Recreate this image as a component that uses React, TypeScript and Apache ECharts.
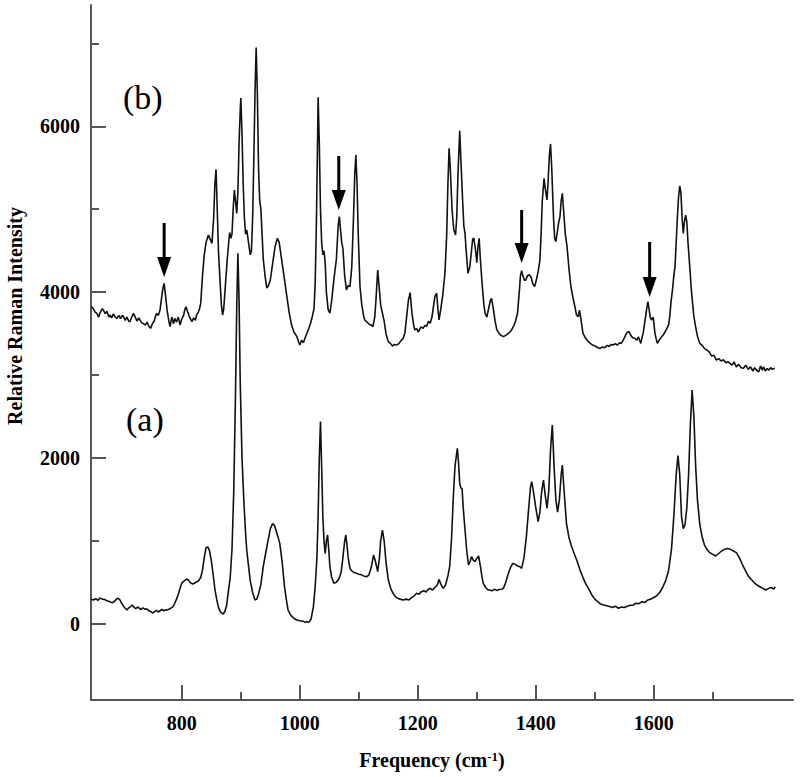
import React, { useEffect, useRef } from "react";
import * as echarts from "echarts";

// Spectrum (a): [frequency cm-1, intensity]
const specA: number[][] = [
  [646,301],[650,290],[654,305],[658,285],[661,313],[665,300],[669,295],[673,280],[677,270],[680,262],
  [683,257],[686,275],[689,300],[692,310],[695,290],[698,250],[701,215],[704,190],[707,169],[710,195],
  [713,210],[716,229],[719,200],[722,185],[725,205],[728,190],[731,175],[734,195],[737,180],[741,181],
  [744,160],[747,150],[751,133],[754,150],[757,165],[760,145],[763,160],[766,175],[769,160],[772,170],
  [775,169],[779,180],[782,195],[785,209],[788,250],[791,300],[794,360],[797,430],[800,494],[804,520],
  [808,542],[811,530],[815,495],[819,482],[823,500],[828,518],[832,560],[835,650],[838,800],[841,920],
  [844,930],[847,880],[850,760],[853,600],[856,420],[859,300],[862,200],[866,140],[870,121],[873,150],
  [876,230],[879,400],[882,560],[885,900],[888,1600],[891,2800],[893,3800],[895,4470],[897,3900],[899,2900],
  [902,2000],[905,1500],[908,1100],[910,892],[913,700],[916,520],[920,380],[924,289],[927,300],[930,360],
  [934,480],[938,691],[942,850],[946,1000],[950,1150],[954,1210],[957,1190],[960,1120],[963,1050],[966,972],
  [970,750],[974,450],[977,300],[980,169],[985,100],[990,70],[995,48],[1000,40],[1005,35],[1009,20],
  [1012,28],[1016,25],[1019,60],[1023,209],[1026,450],[1029,800],[1031,1300],[1033,2000],[1035,2440],[1037,1900],
  [1039,1300],[1041,1000],[1043,852],[1045,1000],[1047,1073],[1049,900],[1051,691],[1054,560],[1058,490],[1062,505],
  [1066,540],[1070,620],[1073,800],[1076,1000],[1078,1073],[1080,950],[1082,800],[1085,671],[1088,640],[1092,620],
  [1096,611],[1100,600],[1104,595],[1108,580],[1113,570],[1117,590],[1121,680],[1125,832],[1128,760],[1132,631],
  [1135,800],[1137,1000],[1140,1133],[1143,1000],[1146,750],[1150,530],[1154,430],[1158,370],[1162,330],[1166,310],
  [1170,300],[1175,289],[1180,300],[1185,290],[1190,320],[1194,340],[1198,370],[1202,360],[1206,390],[1210,400],
  [1214,385],[1218,420],[1221,430],[1225,410],[1229,440],[1233,470],[1236,538],[1239,480],[1243,430],[1247,470],
  [1251,580],[1254,691],[1257,1000],[1260,1500],[1263,1900],[1267,2117],[1269,1950],[1271,1695],[1273,1640],[1275,1635],
  [1277,1400],[1280,1133],[1283,880],[1286,711],[1289,760],[1291,811],[1294,770],[1297,751],[1300,790],[1303,820],
  [1306,700],[1309,560],[1311,490],[1315,440],[1319,410],[1322,410],[1326,400],[1330,420],[1334,405],[1338,415],
  [1342,420],[1345,430],[1349,500],[1353,600],[1357,680],[1361,731],[1365,720],[1369,700],[1373,690],[1376,671],
  [1380,800],[1384,1053],[1388,1400],[1391,1650],[1393,1716],[1396,1600],[1400,1400],[1404,1233],[1407,1350],[1410,1600],
  [1413,1736],[1416,1550],[1419,1394],[1422,1600],[1425,2100],[1428,2400],[1431,1900],[1434,1500],[1437,1350],[1440,1500],
  [1443,1800],[1445,1916],[1448,1600],[1452,1213],[1456,1050],[1460,950],[1465,850],[1470,760],[1475,650],[1480,560],
  [1485,480],[1490,420],[1495,350],[1500,300],[1505,270],[1510,240],[1515,230],[1520,220],[1525,210],[1530,200],
  [1535,215],[1540,190],[1545,205],[1550,200],[1555,215],[1560,225],[1565,230],[1570,250],[1575,245],[1580,270],
  [1585,260],[1590,290],[1595,300],[1600,320],[1605,340],[1610,380],[1615,440],[1620,520],[1625,640],[1630,900],
  [1634,1300],[1638,1800],[1641,2030],[1644,1800],[1647,1300],[1650,1150],[1653,1200],[1656,1400],[1659,1800],[1662,2400],
  [1665,2820],[1668,2500],[1671,1900],[1674,1500],[1678,1200],[1682,1050],[1686,950],[1690,900],[1695,860],[1700,840],
  [1705,820],[1710,850],[1715,880],[1720,900],[1725,910],[1730,900],[1735,880],[1740,860],[1745,800],[1750,720],
  [1755,650],[1760,580],[1765,540],[1770,500],[1775,470],[1780,450],[1785,430],[1790,410],[1795,430],[1800,440],
  [1803,420],[1806,450]
];

// Spectrum (b): [frequency cm-1, intensity]
const specB: number[][] = [
  [647,3825],[650,3800],[653,3760],[656,3745],[659,3700],[662,3760],[665,3800],[667,3785],[670,3740],[673,3770],
  [676,3700],[678,3725],[681,3690],[684,3740],[687,3700],[690,3685],[693,3720],[696,3680],[699,3720],[701,3705],
  [704,3660],[707,3700],[710,3650],[712,3644],[715,3700],[718,3745],[721,3700],[724,3650],[727,3690],[729,3665],
  [732,3630],[735,3620],[738,3604],[741,3640],[744,3590],[747,3564],[750,3620],[753,3650],[755,3700],[757,3745],
  [760,3720],[763,3785],[766,3950],[768,4050],[770,4106],[772,3980],[775,3785],[778,3650],[780,3584],[783,3700],
  [786,3620],[788,3685],[791,3640],[794,3700],[797,3604],[800,3680],[803,3720],[805,3790],[807,3825],[810,3760],
  [813,3700],[817,3644],[820,3690],[823,3660],[825,3725],[828,3760],[830,3800],[832,3865],[835,4200],[838,4450],
  [841,4600],[845,4689],[848,4640],[851,4589],[854,4900],[856,5300],[858,5480],[860,5000],[862,4508],[865,4100],
  [867,3850],[869,3725],[871,3800],[874,4100],[877,4400],[879,4560],[881,4720],[883,4650],[885,4700],[887,5000],
  [889,5230],[891,5100],[893,4950],[895,5200],[897,5800],[899,6200],[900,6340],[902,5900],[904,5300],[906,4900],
  [908,4700],[910,4750],[913,4600],[916,4450],[918,4500],[920,4900],[922,5600],[924,6400],[926,6950],[928,6400],
  [930,5500],[932,5100],[934,5000],[936,4700],[938,4400],[941,4200],[944,4050],[947,4080],[950,4150],[954,4350],
  [958,4550],[962,4650],[965,4600],[968,4450],[972,4250],[975,4100],[978,3950],[982,3750],[986,3604],[990,3520],
  [995,3464],[998,3400],[1000,3363],[1003,3420],[1006,3390],[1009,3450],[1012,3504],[1015,3560],[1018,3620],[1021,3700],
  [1024,3800],[1026,4100],[1028,4800],[1030,5800],[1031,6350],[1033,5800],[1035,5000],[1037,4600],[1039,4450],[1041,4500],
  [1043,4350],[1045,4000],[1048,3790],[1051,3746],[1054,3900],[1057,4100],[1059,4228],[1062,4400],[1065,4800],[1067,4911],
  [1069,4750],[1071,4600],[1073,4529],[1076,4200],[1079,4027],[1082,4080],[1085,4067],[1088,4300],[1091,4900],[1093,5400],
  [1095,5654],[1097,5300],[1099,4700],[1102,4067],[1105,3850],[1108,3720],[1110,3665],[1114,3640],[1118,3610],[1122,3600],
  [1124,3585],[1127,3700],[1129,3900],[1132,4268],[1134,4100],[1137,3850],[1140,3746],[1143,3650],[1146,3500],[1150,3404],
  [1154,3380],[1157,3350],[1160,3370],[1164,3364],[1168,3380],[1172,3420],[1175,3440],[1178,3504],[1181,3700],[1184,3900],
  [1187,3995],[1190,3750],[1193,3600],[1195,3545],[1198,3560],[1201,3520],[1205,3580],[1209,3565],[1212,3600],[1215,3590],
  [1218,3650],[1221,3625],[1224,3700],[1227,3850],[1229,3950],[1232,3987],[1234,3800],[1236,3665],[1239,3800],[1242,3950],
  [1246,4228],[1249,4700],[1251,5300],[1253,5734],[1255,5500],[1258,5000],[1261,4750],[1264,4690],[1266,4900],[1268,5400],
  [1271,5947],[1273,5600],[1276,5100],[1278,4800],[1280,4710],[1282,4500],[1285,4228],[1288,4300],[1291,4500],[1293,4640],
  [1295,4650],[1298,4500],[1300,4356],[1302,4550],[1304,4650],[1306,4400],[1309,4100],[1312,3850],[1314,3746],[1317,3700],
  [1320,3800],[1323,3900],[1325,3926],[1328,3800],[1331,3650],[1334,3545],[1338,3500],[1341,3480],[1345,3464],[1349,3480],
  [1353,3500],[1356,3520],[1359,3545],[1363,3600],[1366,3660],[1369,3746],[1372,4000],[1374,4200],[1376,4260],[1378,4200],
  [1381,4140],[1383,4147],[1386,4200],[1389,4210],[1392,4180],[1395,4100],[1398,4067],[1401,4150],[1404,4250],[1407,4388],
  [1409,4700],[1411,5100],[1414,5373],[1416,5250],[1419,5112],[1421,5350],[1423,5650],[1425,5787],[1427,5500],[1430,4900],
  [1432,4650],[1434,4609],[1437,4750],[1439,4850],[1441,4911],[1443,5100],[1445,5192],[1447,5000],[1450,4700],[1453,4549],
  [1456,4300],[1459,4100],[1461,4007],[1464,3900],[1467,3800],[1469,3725],[1472,3705],[1474,3785],[1477,3650],[1480,3504],
  [1484,3450],[1489,3403],[1493,3380],[1497,3360],[1501,3350],[1505,3330],[1509,3323],[1513,3340],[1517,3330],[1521,3360],
  [1524,3345],[1528,3370],[1531,3363],[1535,3380],[1538,3360],[1542,3390],[1545,3383],[1548,3420],[1552,3480],[1555,3520],
  [1558,3524],[1561,3480],[1564,3450],[1568,3444],[1571,3420],[1574,3460],[1578,3383],[1580,3450],[1582,3504],[1585,3650],
  [1588,3800],[1590,3886],[1592,3800],[1594,3700],[1596,3665],[1599,3700],[1602,3504],[1604,3440],[1606,3383],[1609,3420],
  [1612,3450],[1616,3484],[1619,3520],[1622,3560],[1625,3604],[1627,3700],[1629,3866],[1632,4050],[1634,4200],[1636,4307],
  [1638,4600],[1640,4900],[1642,5150],[1644,5280],[1646,5200],[1648,4900],[1650,4709],[1652,4850],[1654,4930],[1656,4850],
  [1658,4600],[1661,4307],[1664,4000],[1666,3850],[1668,3705],[1671,3580],[1674,3470],[1678,3383],[1682,3360],[1686,3320],
  [1690,3303],[1694,3280],[1698,3230],[1702,3240],[1706,3182],[1710,3200],[1714,3170],[1718,3185],[1722,3150],[1726,3160],
  [1729,3142],[1733,3120],[1736,3160],[1740,3100],[1744,3130],[1748,3090],[1752,3082],[1756,3120],[1760,3070],[1764,3100],
  [1768,3050],[1771,3090],[1774,3062],[1778,3040],[1781,3110],[1784,3060],[1786,3102],[1789,3050],[1792,3080],[1795,3060],
  [1798,3090],[1801,3070],[1805,3082]
];

// Arrows: [frequency, shaft top intensity, tip intensity]
const arrows: number[][] = [
  [770, 4834, 4183],
  [1066, 5642, 4991],
  [1376, 4991, 4352],
  [1593, 4605, 3942],
];

const xMajorTicks = [800, 1000, 1200, 1400, 1600];
const xMinorTicks = [900, 1100, 1300, 1500, 1700];
const yMajorTicks = [0, 2000, 4000, 6000];
const yMinorTicks = [1000, 3000, 5000, 7000];

const X_MIN = 646;
const X_MAX = 1836;
const Y_MIN = -916;
const Y_MAX = 7462;

const SERIF = "'Liberation Serif', 'Times New Roman', serif";
const AXIS_COLOR = "#555";

export default function App() {
  const ref = useRef<HTMLDivElement>(null);
  useEffect(() => {
    if (!ref.current) return;
    const chart = echarts.init(ref.current, null, { renderer: "svg" });
    const labelStyle = { fontFamily: SERIF, fontWeight: "bold" as const, fontSize: 20, color: "#000" };
    const fmt = (v: number) => String(v);
    const option: any = {
      animation: false,
      backgroundColor: "#fff",
      grid: { left: 91, right: 7, top: 5, bottom: 77, containLabel: false },
      xAxis: [
        {
          type: "value", min: X_MIN, max: X_MAX, position: "bottom",
          axisLine: { show: true, onZero: false, lineStyle: { color: AXIS_COLOR, width: 2 } },
          axisTick: { show: true, inside: true, length: 15, customValues: xMajorTicks, lineStyle: { color: AXIS_COLOR, width: 2 } },
          axisLabel: { show: true, customValues: xMajorTicks, margin: 13, formatter: fmt, ...labelStyle },
          splitLine: { show: false },
        },
        {
          type: "value", min: X_MIN, max: X_MAX, position: "bottom",
          axisLine: { show: false, onZero: false },
          axisTick: { show: true, inside: true, length: 8, customValues: xMinorTicks, lineStyle: { color: AXIS_COLOR, width: 2 } },
          axisLabel: { show: false },
          splitLine: { show: false },
        },
      ],
      yAxis: [
        {
          type: "value", min: Y_MIN, max: Y_MAX, position: "left",
          axisLine: { show: true, onZero: false, lineStyle: { color: AXIS_COLOR, width: 2 } },
          axisTick: { show: true, inside: true, length: 15, customValues: yMajorTicks, lineStyle: { color: AXIS_COLOR, width: 2 } },
          axisLabel: { show: true, customValues: yMajorTicks, margin: 11, formatter: fmt, ...labelStyle },
          splitLine: { show: false },
        },
        {
          type: "value", min: Y_MIN, max: Y_MAX, position: "left",
          axisLine: { show: false, onZero: false },
          axisTick: { show: true, inside: true, length: 8, customValues: yMinorTicks, lineStyle: { color: AXIS_COLOR, width: 2 } },
          axisLabel: { show: false },
          splitLine: { show: false },
        },
      ],
      series: [
        {
          name: "(a)", type: "line", data: specA, showSymbol: false, symbol: "none",
          xAxisIndex: 0, yAxisIndex: 0,
          lineStyle: { color: "#111", width: 1.6 },
        },
        {
          name: "(b)", type: "line", data: specB, showSymbol: false, symbol: "none",
          xAxisIndex: 0, yAxisIndex: 0,
          lineStyle: { color: "#111", width: 1.6 },
        },
        {
          type: "custom", xAxisIndex: 0, yAxisIndex: 0, data: arrows,
          encode: { x: 0, y: [1, 2] },
          renderItem: (params: any, api: any) => {
            const top = api.coord([api.value(0), api.value(1)]);
            const tip = api.coord([api.value(0), api.value(2)]);
            return {
              type: "group",
              children: [
                { type: "line", shape: { x1: top[0], y1: top[1], x2: tip[0], y2: tip[1] - 16 }, style: { stroke: "#000", lineWidth: 3 } },
                { type: "polygon", shape: { points: [[tip[0] - 7, tip[1] - 20], [tip[0] + 7, tip[1] - 20], [tip[0], tip[1]]] }, style: { fill: "#000" } },
              ],
            };
          },
        },
      ],
      graphic: [
        { type: "text", left: 123, top: 80, style: { text: "(b)", font: `34px ${SERIF}`, fill: "#000" } },
        { type: "text", left: 126, top: 402, style: { text: "(a)", font: `34px ${SERIF}`, fill: "#000" } },
        {
          type: "text", x: 15, y: 316, rotation: Math.PI / 2,
          style: { text: "Relative Raman Intensity", font: `bold 20px ${SERIF}`, fill: "#000", align: "center", verticalAlign: "middle" },
        },
        {
          type: "text", x: 432, y: 760,
          style: {
            text: "{a|Frequency (cm}{s|-1}{a|)}",
            align: "center", verticalAlign: "middle",
            rich: {
              a: { fontFamily: SERIF, fontWeight: "bold", fontSize: 20, fill: "#000", color: "#000" },
              s: { fontFamily: SERIF, fontWeight: "bold", fontSize: 13, fill: "#000", color: "#000", verticalAlign: "top", padding: [0, 0, 8, 0] },
            },
          },
        },
      ],
    };
    chart.setOption(option);
    return () => chart.dispose();
  }, []);
  return <div ref={ref} style={{ position: "absolute", left: 0, top: 0, width: 800, height: 777 }} />;
}
